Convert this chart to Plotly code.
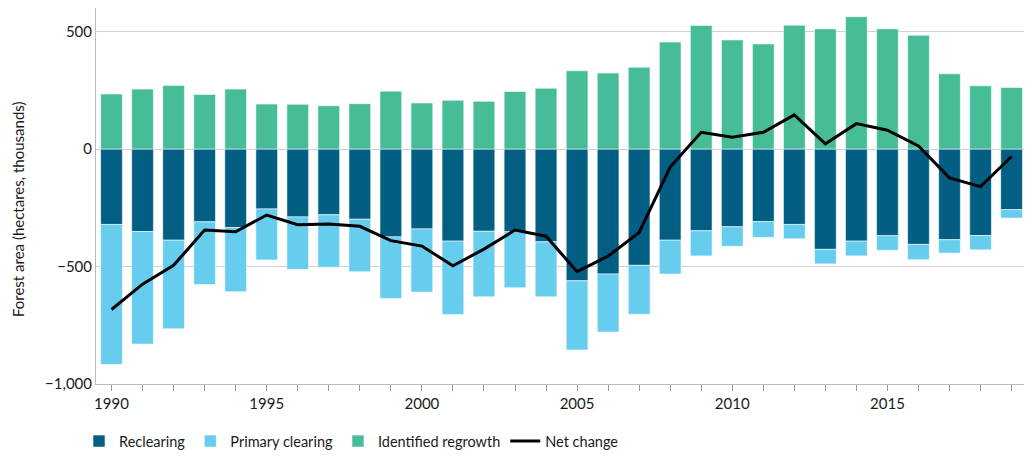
import plotly.graph_objects as go

years = list(range(1990, 2020))

reclearing = [-321, -351, -388, -310, -334, -255, -289, -280, -299, -374,
              -340, -392, -350, -352, -395, -561, -532, -495, -388, -348,
              -331, -309, -321, -427, -392, -369, -406, -386, -368, -258]

primary_clearing = [-596, -479, -377, -267, -273, -217, -223, -223, -223, -262,
                    -269, -312, -279, -238, -234, -294, -247, -208, -144, -107,
                    -83, -67, -61, -62, -63, -62, -65, -57, -61, -36]

identified_regrowth = [234, 255, 270, 232, 255, 191, 190, 184, 193, 246,
                       196, 207, 203, 245, 258, 333, 323, 348, 455, 526,
                       464, 447, 527, 511, 563, 511, 484, 320, 269, 262]

net_change = [-683, -575, -495, -345, -352, -281, -322, -319, -329, -390,
              -413, -497, -426, -345, -371, -522, -456, -355, -77, 71,
              50, 71, 145, 22, 108, 80, 13, -123, -160, -32]

y_ticks = [-1000, -500, 0, 500]
x_tick_labels = [str(y) if y % 5 == 0 else "" for y in years]
y_title = "Forest area (hectares, thousands)"

FONT = "Lato, Roboto, sans-serif"
TXT = "#1a1a1a"
edge = dict(color="rgba(255,255,255,0.55)", width=1)

fig = go.Figure()
fig.add_trace(go.Bar(x=years, y=reclearing, name="Reclearing",
                     marker=dict(color="#035e84", line=edge)))
fig.add_trace(go.Bar(x=years, y=primary_clearing, name="Primary clearing",
                     marker=dict(color="#66cdee", line=edge)))
fig.add_trace(go.Bar(x=years, y=identified_regrowth, name="Identified regrowth",
                     marker=dict(color="#46bd98", line=edge)))
fig.add_trace(go.Scatter(x=years, y=net_change, name="Net change", mode="lines",
                         line=dict(color="black", width=3)))

# page body has an 8px margin, so the figure is sized to fit inside the window
fig.update_layout(
    width=1016, height=445,
    barmode="relative", bargap=0.3,
    plot_bgcolor="white", paper_bgcolor="white",
    margin=dict(l=88, r=0, t=0, b=69, autoexpand=False),
    font=dict(family=FONT, size=15, color=TXT),
    legend=dict(orientation="h", x=-0.0183, xanchor="left", y=-0.152, yanchor="middle",
                font=dict(size=14.5, color=TXT), traceorder="normal",
                itemwidth=30),
    showlegend=True,
    annotations=[dict(text=y_title, textangle=-90, xref="paper", yref="paper",
                      x=-0.084, y=0.4654, xanchor="center", yanchor="middle",
                      showarrow=False, font=dict(size=15, color=TXT))],
)
fig.update_xaxes(range=[1989.5, 2019.4], tickvals=years, ticktext=x_tick_labels,
                 ticks="outside", ticklen=6, tickcolor="#999999",
                 showline=True, linecolor="#bbbbbb", linewidth=1,
                 showgrid=False, zeroline=False, tickfont=dict(size=15))
fig.update_yaxes(range=[-1000, 600], tickvals=y_ticks, tickformat=",",
                 showgrid=True, gridcolor="#d0d0d0", gridwidth=1,
                 zeroline=True, zerolinecolor="#d0d0d0", zerolinewidth=1,
                 showline=True, linecolor="#bbbbbb", linewidth=1,
                 ticks="", tickfont=dict(size=15))

fig.write_html("out.html")
